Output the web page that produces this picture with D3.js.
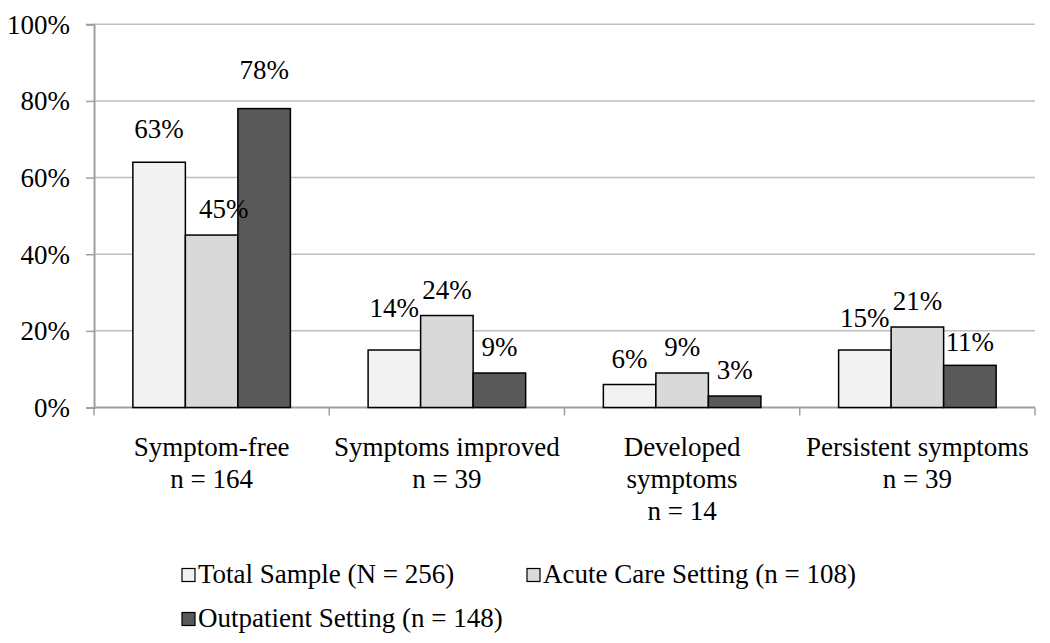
<!DOCTYPE html>
<html>
<head>
<meta charset="utf-8">
<script src="https://cdn.jsdelivr.net/npm/d3@7"></script>
<style>
  html, body { margin: 0; padding: 0; background: #fff; }
  svg { display: block; }
  text { font-family: "Liberation Serif", "Times New Roman", serif; fill: #000; }
</style>
</head>
<body>
<svg id="chart" width="1050" height="643"></svg>
<script>
// ---- data ----
const categories = ["Symptom-free", "Symptoms improved", "Developed symptoms", "Persistent symptoms"];
const categoryLabelLines = [
  ["Symptom-free", "n = 164"],
  ["Symptoms improved", "n = 39"],
  ["Developed", "symptoms", "n = 14"],
  ["Persistent symptoms", "n = 39"]
];
const seriesNames = ["Total Sample (N = 256)", "Acute Care Setting (n = 108)", "Outpatient Setting (n = 148)"];
const totalSample = [64, 15, 6, 15];
const acuteCare = [45, 24, 9, 21];
const outpatient = [78, 9, 3, 11];
const totalLabels = ["63%", "14%", "6%", "15%"];
const acuteLabels = ["45%", "24%", "9%", "21%"];
const outpatientLabels = ["78%", "9%", "3%", "11%"];
const yTicks = [0, 20, 40, 60, 80, 100];

// ---- layout ----
(function () {
const colors = ["#f2f2f2", "#d9d9d9", "#595959"];
const mLeft = 94, mRight = 1035, mTop = 24.3, mBottom = 407.5;
const fontSize = 27;

const svg = d3.select("#chart");

const x0 = d3.scaleBand().domain(categories).range([mLeft, mRight]).paddingInner(0).paddingOuter(0);
const x1 = d3.scaleBand().domain(seriesNames).range([0, x0.bandwidth()]).paddingInner(0).paddingOuter(0.74);
const y = d3.scaleLinear().domain([0, 100]).range([mBottom, mTop]);

const seriesValues = [totalSample, acuteCare, outpatient];
const seriesLabels = [totalLabels, acuteLabels, outpatientLabels];

// gridlines
svg.append("g")
  .selectAll("line")
  .data(yTicks.filter(d => d > 0))
  .join("line")
  .attr("x1", mLeft).attr("x2", mRight)
  .attr("y1", d => y(d)).attr("y2", d => y(d))
  .attr("stroke", "#bfbfbf").attr("stroke-width", 1.5);

// y axis
const yAxis = svg.append("g")
  .attr("transform", `translate(${mLeft},0)`)
  .call(d3.axisLeft(y).tickValues(yTicks).tickFormat(d => d + "%").tickSize(8).tickPadding(16));
yAxis.select(".domain").attr("stroke", "#a0a0a0").attr("stroke-width", 2);
yAxis.selectAll(".tick line").attr("stroke", "#a0a0a0").attr("stroke-width", 1.5);
yAxis.selectAll(".tick text")
  .attr("font-size", fontSize)
  .attr("font-family", "Liberation Serif, Times New Roman, serif")
  .attr("fill", "#000")
  .attr("dy", "0.33em");

// x axis
const xAxisG = svg.append("g").attr("transform", `translate(0,${mBottom})`);
xAxisG.append("line")
  .attr("x1", mLeft).attr("x2", mRight).attr("y1", 0).attr("y2", 0)
  .attr("stroke", "#a0a0a0").attr("stroke-width", 2);
const boundaries = categories.map(c => x0(c)).concat([x0(categories[categories.length - 1]) + x0.bandwidth()]);
xAxisG.selectAll("line.tk")
  .data(boundaries)
  .join("line").attr("class", "tk")
  .attr("x1", d => d).attr("x2", d => d)
  .attr("y1", 0).attr("y2", 8)
  .attr("stroke", "#a0a0a0").attr("stroke-width", 1.5);

// category labels
const catG = svg.append("g");
categories.forEach((c, i) => {
  const cx = x0(c) + x0.bandwidth() / 2;
  const t = catG.append("text")
    .attr("x", cx)
    .attr("y", 456)
    .attr("text-anchor", "middle")
    .attr("font-size", fontSize);
  categoryLabelLines[i].forEach((line, j) => {
    t.append("tspan")
      .attr("x", cx)
      .attr("dy", j === 0 ? 0 : 32)
      .text(line);
  });
});

// bars
const barG = svg.append("g");
seriesNames.forEach((s, si) => {
  barG.selectAll(null)
    .data(categories)
    .join("rect")
    .attr("x", c => x0(c) + x1(s))
    .attr("y", (c, ci) => y(seriesValues[si][ci]))
    .attr("width", x1.bandwidth())
    .attr("height", (c, ci) => y(0) - y(seriesValues[si][ci]))
    .attr("fill", colors[si])
    .attr("stroke", "#000")
    .attr("stroke-width", 1.5);
});

// data labels (with manual nudges like the original), keyed "series-category"
const labelLift = 17;
const liftExtra = { "0-0": 7, "2-0": 13, "0-1": 16, "0-3": 6, "2-3": -3 };
const dxNudge = { "1-0": 12 };
const lblG = svg.append("g");
seriesNames.forEach((s, si) => {
  categories.forEach((c, ci) => {
    const key = si + "-" + ci;
    const extra = liftExtra[key] || 0;
    const dx = dxNudge[key] || 0;
    lblG.append("text")
      .attr("x", x0(c) + x1(s) + x1.bandwidth() / 2 + dx)
      .attr("y", y(seriesValues[si][ci]) - labelLift - extra)
      .attr("text-anchor", "middle")
      .attr("font-size", fontSize)
      .text(seriesLabels[si][ci]);
  });
});

// legend
const legendPos = [[182, 568.5], [527, 568.5], [182, 612.5]];
const legG = svg.append("g");
seriesNames.forEach((s, i) => {
  const [lx, ly] = legendPos[i];
  legG.append("rect")
    .attr("x", lx).attr("y", ly)
    .attr("width", 13).attr("height", 13)
    .attr("fill", colors[i])
    .attr("stroke", "#000").attr("stroke-width", 1.2);
  legG.append("text")
    .attr("x", lx + 16).attr("y", ly + 14)
    .attr("font-size", fontSize)
    .text(s);
});
})();
</script>
</body>
</html>
